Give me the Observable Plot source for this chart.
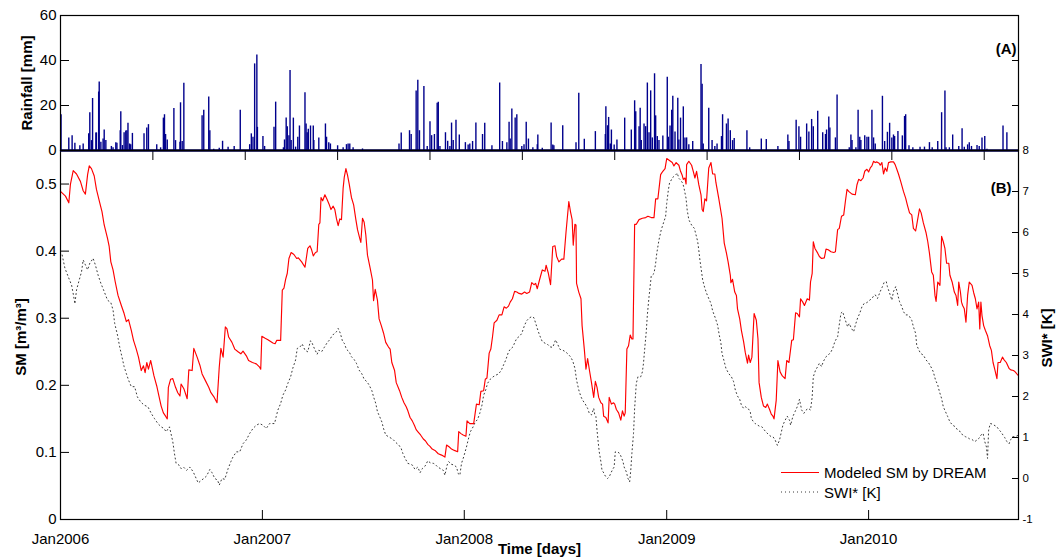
<!DOCTYPE html>
<html>
<head>
<meta charset="utf-8">
<script src="https://cdn.jsdelivr.net/npm/d3@7"></script>
<script src="https://cdn.jsdelivr.net/npm/@observablehq/plot@0.6"></script>
<style>
  html, body { margin: 0; padding: 0; background: #fff; }
  #wrap { position: relative; width: 1058px; height: 560px; overflow: hidden; }
  #wrap > svg { position: absolute; left: 0; top: 0; }
</style>
</head>
<body>
<div id="wrap"></div>
<script>
// ---------------- data (x = days since 1 Jan 2006) ----------------
const rainPairs = [[1,15.9],[15,5.6],[21,6.6],[26,3.2],[35,2.1],[41,2.9],[51,7.4],[53,16.8],[56,4.4],[58,23.1],[64,7.8],[65,7.8],[69,26.0],[70,30.4],[73,3.7],[77,5.1],[79,9.1],[82,4.4],[92,1.8],[95,1.2],[100,3.5],[102,3.2],[108,8.8],[109,17.2],[112,2.2],[115,7.9],[118,8.7],[120,8.8],[122,12.1],[125,2.9],[127,2.6],[130,7.6],[151,7.4],[156,10.0],[159,11.5],[174,2.6],[181,1.2],[186,14.4],[188,15.9],[190,7.1],[193,4.7],[205,18.7],[208,4.4],[216,3.7],[217,21.2],[220,4.0],[223,29.9],[256,15.4],[259,17.9],[268,23.8],[270,8.8],[277,0.6],[287,1.0],[293,4.1],[303,1.5],[314,1.8],[325,17.9],[342,2.6],[345,7.4],[348,5.9],[351,38.5],[355,42.4],[356,10.3],[366,6.2],[369,1.8],[386,10.3],[389,21.5],[403,1.2],[405,4.7],[408,14.4],[410,10.6],[413,6.6],[415,35.6],[417,4.4],[421,14.4],[425,1.5],
[429,5.9],[432,10.9],[442,25.7],[444,11.8],[446,7.9],[448,9.4],[452,10.9],[457,10.9],[458,4.4],[467,5.6],[479,11.8],[481,5.9],[485,3.5],[488,2.9],[501,2.1],[511,1.2],[517,2.6],[520,2.9],[523,2.9],[529,1.2],[546,0.7],[612,2.9],[616,7.8],[631,8.8],[634,7.1],[643,26.5],[646,31.2],[649,8.8],[657,28.5],[663,1.8],[668,12.8],[671,6.6],[676,7.1],[681,21.0],[683,21.5],[686,1.8],[696,7.9],[700,4.1],[704,1.8],[707,12.2],[710,4.4],[715,13.5],[721,6.9],[732,3.5],[737,2.4],[740,2.9],[745,4.0],[751,12.2],[763,7.1],[767,12.1],[780,2.1],[794,30.0],[799,4.0],[807,3.5],[811,12.6],[813,5.1],[816,18.5],[822,14.4],[825,15.9],[834,1.8],[838,2.6],[842,12.6],[846,5.1],[854,1.2],
[862,2.6],[863,6.9],[871,1.0],[887,12.2],[890,2.5],[892,2.1],[908,11.0],[932,3.5],[937,25.4],[947,5.0],[967,8.4],[985,7.1],[986,19.4],[989,11.0],[991,14.7],[994,2.9],[996,9.1],[1001,2.5],[1006,4.7],[1020,14.4],[1032,9.1],[1038,22.1],[1040,17.2],[1046,10.6],[1048,18.8],[1050,4.4],[1055,11.8],[1058,10.6],[1061,30.0],[1064,7.9],[1067,26.5],[1070,5.6],[1074,34.1],[1076,15.4],[1079,6.2],[1082,4.4],[1089,6.5],[1097,32.6],[1099,5.9],[1102,10.9],[1105,17.9],[1107,24.1],[1111,8.2],[1116,23.2],[1118,4.7],[1121,14.4],[1126,19.4],[1129,5.6],[1132,5.6],[1136,2.6],[1143,4.0],[1158,38.2],[1160,29.4],[1162,2.9],[1172,18.8],[1178,4.4],[1183,1.8],[1187,2.9],[1195,6.2],[1197,15.9],[1204,11.8],[1207,14.0],[1211,8.8],[1215,4.4],[1218,5.3],[1241,8.8],[1246,1.2],[1267,5.1],[1276,4.9],
[1297,1.8],[1315,6.9],[1317,4.0],[1330,13.5],[1335,10.6],[1338,5.9],[1349,11.8],[1353,8.2],[1358,13.8],[1361,10.6],[1369,17.4],[1378,7.9],[1383,7.1],[1385,9.1],[1389,14.9],[1391,10.0],[1401,5.6],[1404,24.7],[1426,1.2],[1429,6.9],[1431,4.4],[1438,1.2],[1442,17.9],[1445,5.9],[1447,4.4],[1454,6.6],[1458,5.9],[1461,5.9],[1467,17.9],[1470,5.6],[1473,2.9],[1486,24.1],[1490,4.0],[1495,8.1],[1499,12.1],[1503,5.6],[1506,6.9],[1508,6.2],[1514,8.4],[1522,6.5],[1526,15.1],[1528,15.9],[1534,2.1],[1541,1.2],[1554,1.5],[1562,1.5],[1571,3.5],[1576,1.2],[1586,4.0],[1593,16.8],[1599,26.5],[1601,1.2],[1607,1.2],[1613,6.9],[1624,1.8],[1630,9.7],[1634,1.5],[1640,2.5],[1643,3.5],[1647,1.8],[1657,2.2],[1661,1.8],[1666,5.6],[1671,6.2],[1675,0.6],[1704,10.9],[1711,7.9]];

const smPairs = [[0,.489],[9,.482],[15,.472],[18,.500],[23,.520],[29,.515],[36,.504],[41,.490],[45,.485],[49,.514],[52,.527],[56,.523],[61,.512],[65,.492],[71,.472],[75,.459],[79,.439],[85,.419],[88,.407],[91,.384],[95,.372],[99,.354],[104,.334],[110,.319],[115,.307],[119,.295],[123,.298],[128,.282],[132,.267],[137,.254],[141,.242],[146,.222],[150,.229],[153,.219],[156,.234],[159,.224],[163,.237],[169,.214],[174,.199],[178,.184],[182,.169],[186,.159],[190,.154],[193,.150],[195,.197],[199,.209],[203,.210],[208,.197],[212,.189],[216,.184],[218,.202],[223,.195],[229,.180],[232,.223],[238,.222],[241,.255],[247,.242],[252,.230],[256,.217],[262,.207],[268,.197],[272,.189],[278,.182],[283,.174],[287,.227],[290,.255],[294,.242],[298,.287],[301,.284],[304,.272],[310,.264],[315,.254],[321,.250],[326,.247],[330,.251],[336,.244],[340,.237],[347,.234],[354,.232],[360,.227],[362,.224],[364,.273],[370,.270],[375,.268],[384,.263],[388,.262],[391,.267],[398,.267],[401,.342],[404,.345],[407,.358],[410,.367],[413,.389],[417,.398],[422,.395],[427,.389],
[430,.390],[436,.384],[442,.376],[447,.404],[451,.408],[454,.402],[457,.393],[461,.398],[464,.399],[467,.440],[469,.442],[471,.480],[474,.475],[478,.484],[482,.477],[486,.469],[489,.462],[493,.467],[496,.462],[499,.448],[502,.438],[505,.448],[508,.447],[511,.494],[513,.510],[516,.523],[519,.513],[522,.500],[526,.480],[530,.469],[534,.447],[537,.432],[541,.419],[543,.413],[546,.449],[549,.443],[552,.424],[555,.394],[560,.374],[564,.357],[566,.326],[569,.343],[573,.327],[576,.299],[580,.289],[584,.278],[588,.264],[593,.257],[596,.254],[599,.234],[604,.222],[607,.204],[613,.192],[617,.182],[621,.174],[625,.168],[628,.162],[632,.152],[636,.147],[640,.140],[643,.134],[647,.130],[651,.126],[656,.120],[660,.117],[664,.112],[668,.109],[672,.105],[677,.103],[683,.098],[689,.096],[695,.093],[698,.111],[703,.108],[707,.105],[712,.103],[718,.101],[720,.131],[724,.128],[728,.126],[733,.124],[735,.147],[740,.143],[747,.143],[752,.172],[757,.171],[760,.191],[765,.192],[768,.209],[771,.211],[775,.248],[778,.254],[781,.272],[784,.293],[789,.297],[793,.305],[798,.305],[802,.317],[806,.315],[810,.318],[813,.324],[817,.329],[821,.340],[825,.339],[829,.337],[834,.336],[839,.339],[843,.337],[848,.339],[852,.353],[856,.350],
[859,.352],[862,.344],[866,.357],[871,.372],[876,.370],[878,.379],[882,.367],[886,.350],[890,.407],[894,.408],[897,.392],[901,.384],[906,.388],[910,.388],[914,.429],[919,.474],[922,.459],[925,.447],[927,.409],[930,.440],[932,.439],[933,.352],[937,.339],[941,.329],[943,.289],[947,.254],[950,.224],[953,.240],[956,.224],[960,.204],[964,.182],[967,.206],[970,.197],[973,.182],[977,.174],[980,.172],[982,.154],[986,.152],[990,.144],[992,.182],[996,.172],[1000,.174],[1002,.172],[1005,.164],[1009,.159],[1013,.148],[1016,.162],[1019,.154],[1021,.159],[1024,.254],[1027,.259],[1030,.275],[1033,.269],[1035,.269],[1038,.440],[1041,.440],[1046,.447],[1052,.449],[1058,.450],[1062,.452],[1068,.450],[1073,.450],[1076,.478],[1080,.478],[1085,.514],[1089,.519],[1093,.523],[1096,.538],[1101,.535],[1106,.532],[1109,.527],[1113,.532],[1118,.528],[1121,.519],[1124,.513],[1126,.507],[1129,.509],[1131,.500],[1132,.529],[1136,.534],[1141,.528],[1144,.519],[1147,.509],[1150,.519],[1154,.499],[1158,.484],[1160,.462],[1162,.459],[1165,.478],[1168,.475],[1172,.524],[1176,.532],[1179,.515],[1183,.515],[1185,.502],[1190,.479],[1196,.449],[1200,.412],[1204,.397],[1207,.384],[1211,.364],[1212,.353],[1215,.358],[1219,.339],[1222,.334],[1224,.314],[1228,.299],[1231,.282],[1235,.265],[1238,.249],[1242,.233],[1244,.245],[1247,.234],[1250,.242],[1254,.307],[1258,.297],[1261,.269],[1263,.204],[1267,.182],[1271,.169],[1275,.167],[1278,.172],[1282,.164],[1285,.157],
[1288,.154],[1290,.150],[1294,.178],[1297,.237],[1301,.220],[1305,.214],[1310,.210],[1313,.237],[1317,.234],[1322,.267],[1325,.268],[1329,.308],[1332,.307],[1336,.302],[1338,.329],[1342,.324],[1345,.319],[1350,.329],[1354,.327],[1356,.354],[1359,.367],[1361,.414],[1364,.404],[1369,.397],[1372,.392],[1376,.389],[1381,.390],[1384,.403],[1388,.402],[1393,.399],[1398,.398],[1401,.399],[1405,.432],[1408,.434],[1412,.452],[1416,.454],[1419,.474],[1422,.492],[1425,.489],[1431,.485],[1437,.484],[1440,.499],[1443,.507],[1447,.505],[1451,.509],[1454,.519],[1458,.522],[1461,.518],[1464,.524],[1467,.527],[1470,.534],[1473,.532],[1476,.533],[1480,.531],[1482,.528],[1485,.532],[1488,.515],[1491,.524],[1494,.519],[1497,.532],[1501,.533],[1506,.533],[1509,.529],[1512,.522],[1515,.515],[1519,.504],[1524,.489],[1528,.479],[1531,.469],[1535,.457],[1539,.454],[1542,.434],[1546,.430],[1548,.439],[1553,.463],[1556,.457],[1560,.442],[1565,.427],[1568,.414],[1571,.397],[1575,.369],[1578,.364],[1581,.334],[1583,.325],[1586,.354],[1590,.349],[1593,.422],[1596,.414],[1599,.404],[1602,.382],[1606,.382],[1608,.364],[1612,.354],[1616,.339],[1619,.334],[1622,.319],[1624,.354],[1627,.339],[1629,.324],[1631,.319],[1634,.314],[1637,.294],[1640,.334],[1643,.354],[1648,.349],[1651,.338],[1654,.329],[1657,.314],[1660,.324],[1662,.284],[1664,.324],[1666,.304],[1669,.289],[1672,.282],[1676,.274],[1680,.259],[1683,.252],[1686,.234],[1689,.224],[1693,.210],[1695,.234],[1699,.234],[1703,.242],[1706,.238],[1710,.234],[1715,.225],[1718,.223],[1723,.222],[1726,.220],[1731,.215]];

const swiPairs = [[3,5.45],[8,5.13],[14,4.92],[20,4.72],[24,4.43],[26,4.26],[29,4.60],[33,4.80],[38,5.04],[41,5.33],[45,5.21],[49,5.09],[53,5.25],[59,5.37],[63,5.21],[68,4.96],[73,4.76],[79,4.56],[85,4.35],[91,4.29],[95,4.11],[98,3.78],[103,3.50],[107,3.21],[111,2.97],[115,2.73],[119,2.56],[123,2.40],[128,2.24],[134,2.24],[139,1.99],[145,1.87],[151,1.79],[158,1.75],[164,1.59],[170,1.46],[176,1.34],[182,1.26],[187,1.22],[191,1.14],[197,1.26],[203,0.90],[206,0.61],[209,0.37],[214,0.33],[218,0.24],[223,0.27],[228,0.20],[234,0.28],[240,0.16],[244,0.04],[249,-0.11],[255,-0.04],[259,0.00],[264,0.06],[270,0.22],[274,0.14],[279,0.00],[284,-0.04],[287,-0.16],[292,0.00],[297,-0.02],[303,0.24],[308,0.41],[312,0.53],[318,0.65],[324,0.65],[330,0.85],[336,0.94],[342,1.10],[348,1.22],[354,1.30],[360,1.34],[366,1.30],[372,1.22],[378,1.34],[387,1.34],[390,1.51],[393,1.67],[398,1.83],[402,2.03],[407,2.16],[411,2.32],[416,2.48],[420,2.69],[425,2.89],[428,3.17],
[433,3.21],[437,3.28],[442,3.13],[447,3.09],[452,3.36],[455,3.30],[459,3.17],[464,3.03],[467,3.13],[472,3.09],[477,3.20],[482,3.31],[487,3.39],[490,3.46],[495,3.54],[499,3.58],[502,3.66],[506,3.54],[510,3.34],[513,3.30],[517,3.15],[522,3.09],[526,2.97],[531,2.90],[535,2.81],[540,2.64],[545,2.55],[549,2.42],[554,2.36],[558,2.28],[563,2.14],[566,1.99],[570,1.83],[573,1.63],[577,1.51],[581,1.38],[584,1.22],[588,1.06],[593,1.02],[598,0.98],[602,0.94],[607,0.87],[612,0.81],[616,0.73],[619,0.61],[623,0.49],[628,0.37],[632,0.35],[636,0.33],[641,0.22],[646,0.28],[650,0.14],[654,0.24],[659,0.30],[664,0.43],[669,0.38],[674,0.37],[677,0.35],[682,0.28],[687,0.24],[692,0.20],[695,0.08],[699,0.33],[702,0.41],[706,0.35],[711,0.33],[716,0.28],[719,0.12],[722,0.08],[725,0.37],[729,0.53],[734,0.77],[737,0.94],[741,1.14],[746,1.26],[750,1.38],[754,1.44],[758,1.59],[762,1.79],[765,2.03],[769,2.17],[772,2.32],[777,2.42],[782,2.48],[787,2.52],[792,2.55],[797,2.64],[801,2.77],[805,2.89],[810,3.09],[813,3.15],[818,3.21],[822,3.34],[825,3.42],[830,3.47],[834,3.54],[839,3.74],[843,3.85],[847,3.91],[852,3.95],[856,3.92],
[862,3.66],[866,3.50],[871,3.34],[876,3.30],[880,3.28],[885,3.21],[890,3.20],[895,3.38],[898,3.30],[903,3.15],[908,3.13],[913,3.09],[918,3.03],[922,2.97],[926,2.87],[930,2.69],[933,2.40],[937,2.16],[941,1.99],[944,1.91],[949,1.81],[953,1.71],[956,1.59],[960,1.55],[964,1.71],[966,1.55],[968,1.51],[970,1.18],[972,0.90],[974,0.65],[977,0.41],[979,0.20],[982,0.14],[985,0.06],[989,0.00],[992,0.04],[996,0.16],[999,0.24],[1001,0.28],[1003,0.65],[1007,0.65],[1011,0.61],[1013,0.55],[1017,0.41],[1019,0.28],[1023,0.16],[1026,0.00],[1029,-0.08],[1031,0.20],[1033,0.61],[1036,1.10],[1038,1.71],[1041,2.32],[1044,2.48],[1049,2.48],[1052,2.60],[1054,2.81],[1056,3.13],[1059,3.58],[1061,3.99],[1064,4.43],[1066,4.68],[1068,4.94],[1073,5.00],[1076,5.25],[1078,5.49],[1082,5.82],[1086,6.06],[1091,6.27],[1094,6.39],[1096,6.71],[1099,7.04],[1101,7.20],[1105,7.30],[1108,7.36],[1112,7.40],[1115,7.45],[1118,7.32],[1121,7.28],[1125,7.20],[1127,7.10],[1131,6.83],[1133,6.55],[1136,6.31],[1141,6.18],[1146,6.10],[1149,5.94],[1152,5.78],[1154,5.57],[1156,5.33],[1159,5.04],[1161,4.84],[1165,4.64],[1168,4.52],[1172,4.39],[1176,4.27],[1179,4.09],[1184,3.91],[1188,3.74],[1191,3.50],[1194,3.30],[1196,3.05],[1200,2.85],[1203,2.69],[1208,2.56],[1213,2.48],[1217,2.36],[1220,2.16],[1224,2.01],[1228,1.93],[1231,1.79],[1235,1.71],[1238,1.75],[1243,1.71],[1247,1.63],[1249,1.46],[1253,1.38],[1256,1.34],[1263,1.28],[1268,1.26],[1275,1.14],[1281,1.06],[1285,1.02],
[1288,1.02],[1292,0.94],[1296,0.81],[1300,0.94],[1302,1.06],[1306,1.30],[1310,1.42],[1314,1.52],[1318,1.42],[1320,1.30],[1324,1.51],[1328,1.63],[1332,1.75],[1336,1.93],[1340,1.67],[1344,1.59],[1348,1.67],[1352,1.71],[1356,1.67],[1359,1.99],[1361,2.48],[1365,2.64],[1369,2.73],[1372,2.81],[1376,2.73],[1379,2.85],[1384,2.97],[1388,3.01],[1393,3.09],[1396,3.17],[1400,3.34],[1405,3.46],[1407,3.66],[1411,4.03],[1414,4.07],[1419,3.86],[1423,3.70],[1426,3.78],[1430,3.66],[1434,3.58],[1437,3.74],[1441,3.91],[1445,4.03],[1449,4.19],[1453,4.27],[1458,4.29],[1463,4.35],[1467,4.39],[1470,4.45],[1473,4.48],[1477,4.39],[1482,4.56],[1486,4.68],[1489,4.78],[1493,4.80],[1495,4.68],[1499,4.52],[1503,4.35],[1506,4.56],[1510,4.68],[1513,4.52],[1517,4.31],[1521,4.19],[1524,4.07],[1528,3.99],[1531,3.99],[1535,3.95],[1539,3.86],[1542,3.70],[1546,3.54],[1548,3.25],[1552,3.13],[1555,3.05],[1560,3.01],[1565,2.89],[1570,2.81],[1575,2.69],[1578,2.60],[1582,2.40],[1586,2.28],[1589,2.12],[1593,1.95],[1596,1.75],[1600,1.63],[1604,1.51],[1608,1.38],[1613,1.30],[1618,1.26],[1622,1.18],[1627,1.14],[1631,1.06],[1636,1.02],[1640,1.00],[1643,0.97],[1648,0.95],[1653,0.90],[1657,0.94],[1662,1.00],[1664,1.06],[1668,1.10],[1671,0.90],[1674,0.77],[1676,0.49],[1678,1.18],[1681,1.34],[1684,1.33],[1688,1.30],[1693,1.26],[1696,1.20],[1700,1.14],[1704,1.06],[1707,1.00],[1711,0.90],[1715,0.85],[1718,0.95],[1722,1.02],[1726,1.02],[1731,1.05]];

const xDomainDays = [0, 1732];
const yearTickDays = [0, 365, 730, 1096, 1461];
const yearTickLabels = ["Jan2006", "Jan2007", "Jan2008", "Jan2009", "Jan2010"];
const secondaryTickDays = [167, 334, 501, 668, 835, 1002, 1169, 1336, 1503, 1670];
const rainTicks = [0, 20, 40, 60];
const smTicks = [0, 0.1, 0.2, 0.3, 0.4, 0.5];
const smDomain = [0, 0.55];
const swiTicks = [-1, 0, 1, 2, 3, 4, 5, 6, 7, 8];
const swiDomain = [-1, 8];
const legendLabels = ["Modeled SM by DREAM", "SWI* [K]"];

// ---------------- drawing ----------------
const FONT = '"Liberation Sans", Arial, Helvetica, sans-serif';
const W = 1058;
const ML = 60, MR = 40;
const baseStyle = {background: "transparent", overflow: "visible", fontFamily: FONT, color: "#000"};

const rainData = rainPairs.map(([d, mm]) => ({d, mm}));
const smData = smPairs.map(([d, v]) => ({d, v}));
const swiData = swiPairs.map(([d, k]) => ({d, k}));
// SWI* is drawn against the right axis, which spans the same height as the SM axis
const swiToSm = k => (k - swiDomain[0]) / (swiDomain[1] - swiDomain[0]) * (smDomain[1] - smDomain[0]) + smDomain[0];
const smToSwi = v => (v - smDomain[0]) / (smDomain[1] - smDomain[0]) * (swiDomain[1] - swiDomain[0]) + swiDomain[0];

const bottomPlot = Plot.plot({
  width: W, height: 560,
  marginLeft: ML, marginRight: MR, marginTop: 150, marginBottom: 41,
  x: {domain: xDomainDays, axis: null},
  y: {domain: smDomain, axis: null},
  style: baseStyle,
  marks: [
    Plot.line(swiData, {x: "d", y: d => swiToSm(d.k), stroke: "#3a3a3a", strokeWidth: 1, strokeDasharray: "1,3"}),
    Plot.line(smData, {x: "d", y: "v", stroke: "#ff0000", strokeWidth: 1.15}),
    Plot.frame({stroke: "#000", strokeWidth: 1.2}),
    Plot.axisY(smTicks, {anchor: "left", tickSize: -9, tickPadding: 13, fontSize: 15, label: null, tickFormat: d => String(d)}),
    Plot.axisY(swiTicks.map(swiToSm), {anchor: "right", tickSize: -7, tickPadding: 11, fontSize: 11.5, label: null,
      tickFormat: v => String(Math.round(smToSwi(v)))}),
    Plot.axisX(yearTickDays, {anchor: "bottom", tickSize: -9, tickPadding: 23, fontSize: 15, label: null,
      tickFormat: d => yearTickLabels[yearTickDays.indexOf(d)]}),
    Plot.axisX(secondaryTickDays, {anchor: "top", tickSize: -9, label: null, tickFormat: () => ""}),
    Plot.text(["SM [m\u00b3/m\u00b3]"], {text: d => d, frameAnchor: "left", textAnchor: "middle", dx: -39, dy: 2, rotate: -90, fontSize: 15, fontWeight: "bold"}),
    Plot.text(["SWI* [K]"], {text: d => d, frameAnchor: "right", textAnchor: "middle", dx: 29, dy: 3, rotate: -90, fontSize: 15, fontWeight: "bold"}),
    Plot.text(["Time [days]"], {text: d => d, frameAnchor: "bottom", textAnchor: "middle", dy: 34, fontSize: 15, fontWeight: "bold"}),
    Plot.text(["(B)"], {text: d => d, frameAnchor: "top-right", textAnchor: "end", dx: -7, dy: 32, fontSize: 15, fontWeight: "bold"})
  ]
});

const topPlot = Plot.plot({
  width: W, height: 152,
  marginLeft: ML, marginRight: MR, marginTop: 15, marginBottom: 2,
  x: {domain: xDomainDays, axis: null},
  y: {domain: [0, 60], axis: null},
  style: baseStyle,
  marks: [
    Plot.ruleX(rainData, {x: "d", y1: 0, y2: "mm", stroke: "#00008c", strokeWidth: 1.4}),
    Plot.ruleY([0], {stroke: "#000046", strokeWidth: 2.6}),
    Plot.frame({stroke: "#000", strokeWidth: 1.2}),
    Plot.axisY(rainTicks, {anchor: "left", tickSize: -9, tickPadding: 13, fontSize: 15, label: null, tickFormat: d => String(d)}),
    Plot.axisY(rainTicks, {anchor: "right", tickSize: -7, label: null, tickFormat: () => ""}),
    Plot.text(["Rainfall [mm]"], {text: d => d, frameAnchor: "left", textAnchor: "middle", dx: -33, rotate: -90, fontSize: 15, fontWeight: "bold"}),
    Plot.text(["(A)"], {text: d => d, frameAnchor: "top-right", textAnchor: "end", dx: -2, dy: 28, fontSize: 15, fontWeight: "bold"})
  ]
});

const wrapEl = document.getElementById("wrap");
wrapEl.appendChild(bottomPlot);
wrapEl.appendChild(topPlot);

// legend (no box), lower right of panel B
const legSvg = d3.select(wrapEl).append("svg")
  .attr("width", W).attr("height", 560)
  .style("position", "absolute").style("left", "0px").style("top", "0px")
  .style("pointer-events", "none");
const legendItems = [
  {label: legendLabels[0], stroke: "#ff0000", dash: null, width: 1.15, y: 472.5},
  {label: legendLabels[1], stroke: "#3a3a3a", dash: "1,3", width: 1, y: 492}
];
legendItems.forEach(it => {
  const ln = legSvg.append("line").attr("x1", 781).attr("x2", 819).attr("y1", it.y).attr("y2", it.y)
    .attr("stroke", it.stroke).attr("stroke-width", it.width);
  if (it.dash) ln.attr("stroke-dasharray", it.dash);
  legSvg.append("text").attr("x", 824).attr("y", it.y + 5.5)
    .attr("font-family", FONT).attr("font-size", 15).attr("fill", "#000").text(it.label);
});
</script>
</body>
</html>
